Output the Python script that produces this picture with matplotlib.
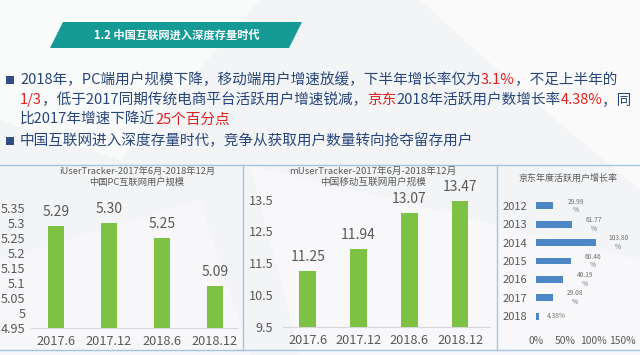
import numpy as np
import matplotlib
matplotlib.use("Agg")
import matplotlib.pyplot as plt
from matplotlib.patches import Polygon

plt.rcParams['font.family'] = ['Noto Sans CJK SC', 'DejaVu Sans']

# data
periods = ["2017.6", "2017.12", "2018.6", "2018.12"]
pc_users = [5.29, 5.30, 5.25, 5.09]
mobile_users = [11.25, 11.94, 13.07, 13.47]
jd_years = ["2012", "2013", "2014", "2015", "2016", "2017", "2018"]
jd_growth = [29.99, 61.77, 103.80, 60.46, 46.19, 29.08, 4.38]

W, H = 640, 355
BLUE_TXT = "#27467C"
RED_TXT = "#E0221F"
GREEN = "#7DC242"
BAR_BLUE = "#4E87C5"
GRAY_TXT = "#595959"
LINE = "#A9C3DE"


def fx(px):
    return px / W


def fy(py):
    return 1 - py / H


fig = plt.figure(figsize=(6.4, 3.55), dpi=100, facecolor="#F3F4F6")

# faint background facets
for pts, a in [([(0, 0), (260, 0), (120, 160), (0, 120)], 0.55),
               ([(420, 0), (640, 0), (640, 190), (520, 90)], 0.6),
               ([(250, 165), (640, 260), (640, 355), (300, 355)], 0.45),
               ([(0, 260), (200, 200), (250, 355), (0, 355)], 0.35)]:
    fig.patches.append(Polygon([(fx(x), fy(y)) for x, y in pts], closed=True,
                               transform=fig.transFigure, color="white",
                               alpha=a, lw=0, zorder=-5))

# banner
banner = [(50, 48), (63, 22), (302, 22), (289, 48)]
fig.patches.append(Polygon([(fx(x), fy(y)) for x, y in banner], closed=True,
                           transform=fig.transFigure, color="#169A96", lw=0))
fig.text(fx(177), fy(35.5), "1.2 中国互联网进入深度存量时代", color="white",
         fontsize=8.1, fontweight="bold", ha="center", va="center")

# bullet paragraph, coloured pieces laid out one after another
lines = [
    [("2018年，PC端用户规模下降，移动端用户增速放缓，下半年增长率仅为", BLUE_TXT),
     ("3.1%", RED_TXT), ("，不足上半年的", BLUE_TXT)],
    [("1/3", RED_TXT), ("，低于2017同期传统电商平台活跃用户增速锐减，", BLUE_TXT),
     ("京东", RED_TXT), ("2018年活跃用户数增长率", BLUE_TXT),
     ("4.38%", RED_TXT), ("，同", BLUE_TXT)],
    [("比2017年增速下降近", BLUE_TXT), ("25个百分点", RED_TXT)],
    [("中国互联网进入深度存量时代，竞争从获取用户数量转向抢夺留存用户", BLUE_TXT)],
]
line_y = [80, 100, 120, 141]
bullets = [0, 3]
text_x0 = 20
line_right = 617

renderer = fig.canvas.get_renderer()
probe = fig.text(0, 0, "".join(s for s, _ in lines[0]), fontsize=10)
fs = 10 * (line_right - text_x0) / probe.get_window_extent(renderer).width
probe.remove()

for i, (pieces, y) in enumerate(zip(lines, line_y)):
    x = text_x0
    for s, c in pieces:
        t = fig.text(fx(x), fy(y), s, color=c, fontsize=fs, va="center", ha="left")
        x += t.get_window_extent(renderer).width
    if i in bullets:
        fig.patches.append(Polygon(
            [(fx(6), fy(y - 4)), (fx(14), fy(y - 4)), (fx(14), fy(y + 4)), (fx(6), fy(y + 4))],
            closed=True, transform=fig.transFigure, color="#2E4E84", lw=0))

# panel frame lines
for (x1, y1, x2, y2) in [(0, 165, 640, 165), (0, 350, 640, 350),
                         (243, 165, 243, 350), (497, 165, 497, 350)]:
    fig.add_artist(plt.Line2D([fx(x1), fx(x2)], [fy(y1), fy(y2)],
                              color=LINE, lw=1.0, transform=fig.transFigure))


def axes_px(left, top, right, bottom):
    return fig.add_axes([fx(left), fy(bottom), fx(right - left), (bottom - top) / H])


def style_vbar(ax):
    ax.set_facecolor("none")
    for sp in ["top", "right", "left"]:
        ax.spines[sp].set_visible(False)
    ax.spines["bottom"].set_color("#D6D6D6")
    ax.tick_params(axis="both", length=0, colors=GRAY_TXT, labelsize=9.2)
    ax.tick_params(axis="x", pad=5)
    ax.tick_params(axis="y", pad=4)


# chart 1: PC users
ax1 = axes_px(31, 193, 237, 328)
xs = np.arange(len(periods))
ax1.bar(xs, pc_users, width=0.29, color=GREEN)
ax1.set_ylim(4.95, 5.40)
ax1.set_xlim(-0.47, 3.415)
ax1.set_yticks(np.arange(4.95, 5.351, 0.05))
ax1.set_yticklabels(["4.95", "5", "5.05", "5.1", "5.15", "5.2", "5.25", "5.3", "5.35"])
ax1.set_xticks(xs)
ax1.set_xticklabels(periods)
style_vbar(ax1)
for x, v in zip(xs, pc_users):
    ax1.annotate(f"{v:.2f}", (x, v), xytext=(0, 5), textcoords="offset points",
                 ha="center", va="bottom", fontsize=10, color=GRAY_TXT, annotation_clip=False)
fig.text(fx(137), fy(171), "iUserTracker-2017年6月-2018年12月", ha="center", va="center",
         fontsize=6.7, color=GRAY_TXT)
fig.text(fx(137), fy(182.5), "中国PC互联网用户规模", ha="center", va="center",
         fontsize=6.7, color=GRAY_TXT)

# chart 2: mobile users
ax2 = axes_px(283, 190, 490, 327)
ax2.bar(xs, mobile_users, width=0.33, color=GREEN)
ax2.set_ylim(9.5, 13.8)
ax2.set_xlim(-0.49, 3.59)
ax2.set_yticks([9.5, 10.5, 11.5, 12.5, 13.5])
ax2.set_yticklabels(["9.5", "10.5", "11.5", "12.5", "13.5"])
ax2.set_xticks(xs)
ax2.set_xticklabels(periods)
style_vbar(ax2)
ax2.tick_params(axis="y", pad=7)
for x, v in zip(xs, mobile_users):
    ax2.annotate(f"{v:.2f}", (x, v), xytext=(0, 5), textcoords="offset points",
                 ha="center", va="bottom", fontsize=10, color=GRAY_TXT, annotation_clip=False)
fig.text(fx(373), fy(171), "mUserTracker-2017年6月-2018年12月", ha="center", va="center",
         fontsize=6.9, color=GRAY_TXT)
fig.text(fx(373), fy(182.5), "中国移动互联网用户规模", ha="center", va="center",
         fontsize=6.9, color=GRAY_TXT)

# chart 3: JD active user growth
ax3 = axes_px(536, 193, 622.7, 329)
ys = np.arange(len(jd_years))
ax3.barh(ys, jd_growth, height=0.38, color=BAR_BLUE)
ax3.set_xlim(0, 150)
ax3.set_ylim(6.7, -0.7)
ax3.set_yticks(ys)
ax3.set_yticklabels(jd_years)
ax3.set_xticks([0, 50, 100, 150])
ax3.set_xticklabels(["0%", "50%", "100%", "150%"])
ax3.set_facecolor("none")
for sp in ax3.spines.values():
    sp.set_visible(False)
ax3.tick_params(axis="both", length=0, colors=GRAY_TXT)
ax3.tick_params(axis="y", labelsize=8, pad=6)
ax3.tick_params(axis="x", labelsize=7.4, pad=5)
for y, v in zip(ys, jd_growth):
    if v < 10:
        lab, off, ha = f"{v:.2f}%", 6, "left"
    else:
        lab, off, ha = f"{v:.2f}\n%", 16, "center"
    ax3.annotate(lab, (v, y), xytext=(off, 0), textcoords="offset points",
                 ha=ha, va="center", fontsize=4.8, color="#707070",
                 linespacing=1.1, annotation_clip=False)
fig.text(fx(568), fy(178), "京东年度活跃用户增长率", ha="center", va="center",
         fontsize=6.5, color=GRAY_TXT)

fig.savefig("out.png", dpi=100, facecolor=fig.get_facecolor())
